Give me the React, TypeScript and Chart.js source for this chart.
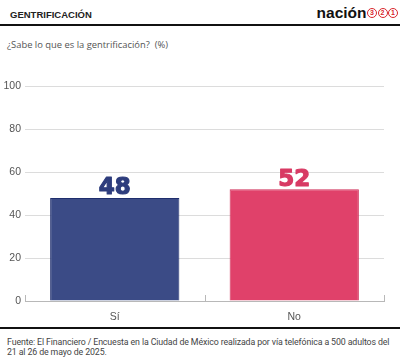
import React, { useEffect, useRef } from "react";
import { Chart, registerables } from "chart.js";

Chart.register(...registerables);

const categories: string[] = ["Sí", "No"];
const values: number[] = [48, 52];
const barColors: string[] = ["#3b4b86", "#e0416a"];
const borderColors: string[] = ["#1f2e6d", "#cf2f5a"];
const labelColors: string[] = ["#2e3d7d", "#d83a64"];
const yTicks: number[] = [0, 20, 40, 60, 80, 100];

const title = "GENTRIFICACIÓN";
const subtitle = "¿Sabe lo que es la gentrificación?\u00a0 (%)";
const sourceLine1 =
  "Fuente: El Financiero / Encuesta en la Ciudad de México realizada por vía telefónica a 500 adultos del";
const sourceLine2 = "21 al 26 de mayo de 2025.";

const valueLabelPlugin = {
  id: "valueLabels",
  afterDatasetsDraw(chart: any) {
    const ctx = chart.ctx;
    const meta = chart.getDatasetMeta(0);
    ctx.save();
    ctx.font = "bold 23px 'DejaVu Sans'";
    ctx.textAlign = "center";
    ctx.textBaseline = "alphabetic";
    ctx.lineJoin = "round";
    meta.data.forEach((bar: any, i: number) => {
      ctx.fillStyle = labelColors[i];
      ctx.strokeStyle = labelColors[i];
      ctx.lineWidth = 1.2;
      ctx.fillText(String(values[i]), bar.x, bar.y - 3.5);
      ctx.strokeText(String(values[i]), bar.x, bar.y - 3.5);
    });
    ctx.restore();
  },
};

const boundaryTicksPlugin = {
  id: "boundaryTicks",
  afterDraw(chart: any) {
    const { ctx, chartArea } = chart;
    const n = categories.length;
    const w = (chartArea.right - chartArea.left) / n;
    ctx.save();
    ctx.strokeStyle = "#b8b8b8";
    ctx.lineWidth = 1;
    for (let i = 0; i <= n; i++) {
      const x = Math.round(chartArea.left + i * w) + 0.5;
      ctx.beginPath();
      ctx.moveTo(x, chartArea.bottom);
      ctx.lineTo(x, chartArea.bottom - 6);
      ctx.stroke();
    }
    ctx.restore();
  },
};

function BarChart() {
  const ref = useRef<HTMLCanvasElement | null>(null);
  useEffect(() => {
    if (!ref.current) return;
    const chart = new Chart(ref.current, {
      type: "bar",
      data: {
        labels: categories,
        datasets: [
          {
            data: values,
            backgroundColor: barColors,
            borderColor: borderColors,
            borderWidth: 1,
            categoryPercentage: 0.72,
            barPercentage: 1,
          },
        ],
      },
      options: {
        animation: false,
        responsive: false,
        devicePixelRatio: 1,
        layout: { padding: { top: 10, right: 16, left: 0, bottom: 0 } },
        plugins: { legend: { display: false }, tooltip: { enabled: false } },
        scales: {
          y: {
            min: 0,
            max: 100,
            afterBuildTicks: (scale: any) => {
              scale.ticks = yTicks.map((v) => ({ value: v }));
            },
            afterFit: (scale: any) => {
              scale.width = 25;
            },
            ticks: {
              padding: 4,
              color: "#555",
              font: { family: "'Liberation Sans'", size: 10.5 },
            },
            grid: { color: "#dcdcdc", drawTicks: false, lineWidth: 1 },
            border: { display: false },
          },
          x: {
            afterFit: (scale: any) => {
              scale.height = 24;
            },
            ticks: {
              padding: 2,
              color: "#555",
              font: { family: "'Liberation Sans'", size: 10.5 },
            },
            grid: { display: false },
            border: { display: true, color: "#b8b8b8", width: 1 },
          },
        },
      },
      plugins: [valueLabelPlugin, boundaryTicksPlugin],
    } as any);
    return () => chart.destroy();
  }, []);
  return (
    <canvas
      ref={ref}
      width={400}
      height={249}
      style={{ position: "absolute", left: 0, top: 76, width: 400, height: 249 }}
    />
  );
}

function Circle({ d }: { d: string }) {
  return (
    <span
      style={{
        display: "inline-block",
        width: 8,
        height: 8,
        border: "1.3px solid #d9262c",
        borderRadius: "50%",
        color: "#d9262c",
        fontSize: 7,
        fontWeight: 700,
        lineHeight: "8px",
        textAlign: "center",
        marginLeft: 0.5,
        verticalAlign: "middle",
        fontFamily: "'Liberation Sans'",
      }}
    >
      {d}
    </span>
  );
}

export default function App() {
  return (
    <div
      style={{
        position: "absolute",
        left: 0,
        top: 0,
        width: 400,
        height: 362,
        background: "#fff",
        overflow: "hidden",
        fontFamily: "'Liberation Sans', Arial, sans-serif",
      }}
    >
      <div
        style={{
          position: "absolute",
          left: 10,
          top: 9,
          fontSize: 9.5,
          fontWeight: 700,
          color: "#222",
          lineHeight: "12px",
        }}
      >
        {title}
      </div>
      <div
        style={{
          position: "absolute",
          right: 2,
          top: 3,
          fontSize: 15.5,
          fontWeight: 700,
          color: "#111",
          lineHeight: "18px",
          whiteSpace: "nowrap",
        }}
      >
        <span style={{ verticalAlign: "middle" }}>nación</span>
        <Circle d="3" />
        <Circle d="2" />
        <Circle d="1" />
      </div>
      <div
        style={{
          position: "absolute",
          left: 0,
          top: 24,
          width: 400,
          height: 2,
          background: "#111",
        }}
      />
      <div
        style={{
          position: "absolute",
          left: 7,
          top: 38,
          fontSize: 9.4,
          color: "#555",
          lineHeight: "14px",
          fontFamily: "'Open Sans'",
        }}
      >
        {subtitle}
      </div>
      <BarChart />
      <div
        style={{
          position: "absolute",
          left: 0,
          top: 327,
          width: 400,
          height: 2,
          background: "#111",
        }}
      />
      <div
        style={{
          position: "absolute",
          left: 7,
          top: 337,
          fontSize: 8.8,
          letterSpacing: "-0.12px",
          color: "#444",
          lineHeight: "10px",
          fontFamily: "Roboto",
          whiteSpace: "nowrap",
        }}
      >
        {sourceLine1}
        <br />
        {sourceLine2}
      </div>
    </div>
  );
}
